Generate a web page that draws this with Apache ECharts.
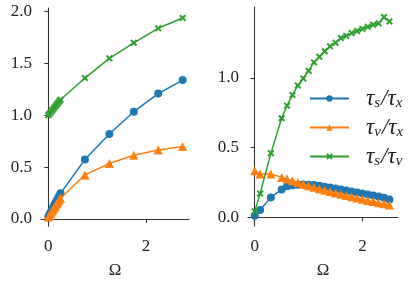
<!DOCTYPE html>
<html><head><meta charset="utf-8">
<script src="https://cdn.jsdelivr.net/npm/echarts@6/dist/echarts.min.js"></script>
<style>html,body{margin:0;padding:0;background:#fff}#c{width:415px;height:284px}</style>
</head><body><div id="c"></div>
<script>
// Left panel data
const leftX = [0, 0.025, 0.05, 0.075, 0.1, 0.125, 0.15, 0.175, 0.2, 0.225, 0.25, 0.75, 1.25, 1.75, 2.25, 2.75];
const leftSX = [0.02, 0.045, 0.066, 0.09, 0.113, 0.136, 0.158, 0.18, 0.202, 0.225, 0.247, 0.574, 0.82, 1.035, 1.21, 1.34];
const leftVX = [0.02, 0.038, 0.056, 0.074, 0.092, 0.11, 0.128, 0.146, 0.164, 0.182, 0.2, 0.425, 0.535, 0.615, 0.665, 0.70];
const leftSV = [1.0, 1.015, 1.03, 1.045, 1.06, 1.075, 1.09, 1.105, 1.12, 1.135, 1.15, 1.36, 1.55, 1.70, 1.84, 1.94];
// Right panel data
const rightX = [0, 0.1, 0.3, 0.5, 0.6, 0.7, 0.8, 0.9, 1.0, 1.1, 1.2, 1.3, 1.4, 1.5, 1.6, 1.7, 1.8, 1.9, 2.0, 2.1, 2.2, 2.3, 2.4, 2.5];
const rightSX = [0.012, 0.052, 0.143, 0.200, 0.222, 0.230, 0.234, 0.235, 0.234, 0.231, 0.226, 0.220, 0.213, 0.206, 0.199, 0.192, 0.185, 0.178, 0.171, 0.164, 0.157, 0.150, 0.140, 0.128];
const rightVX = [0.333, 0.31, 0.31, 0.286, 0.274, 0.262, 0.250, 0.238, 0.227, 0.216, 0.205, 0.195, 0.185, 0.175, 0.165, 0.156, 0.147, 0.138, 0.129, 0.121, 0.113, 0.105, 0.097, 0.089];
const rightSV = [0.043, 0.17, 0.46, 0.71, 0.80, 0.876, 0.945, 0.995, 1.05, 1.11, 1.15, 1.19, 1.225, 1.25, 1.285, 1.30, 1.32, 1.335, 1.35, 1.365, 1.38, 1.39, 1.435, 1.404];
// Ticks
const leftYTicks = [0, 0.5, 1.0, 1.5, 2.0];
const rightYTicks = [0, 0.5, 1.0];
const xTicks = [0, 2];
const seriesNames = ['τs/τx', 'τv/τx', 'τs/τv'];

const colors = ['#1f77b4', '#ff7f0e', '#2ca02c'];
const XSYM = 'path://M0,2 L2,0 L5,3 L8,0 L10,2 L7,5 L10,8 L8,10 L5,7 L2,10 L0,8 L3,5 Z';
const symbols = ['circle', 'triangle', XSYM];
const symSizes = [8, 9, 7];
const FONT = 'Liberation Serif';
const spine = {show: true, lineStyle: {color: '#333', width: 1.1}};
const tick = (vals) => ({show: true, inside: false, length: 4, lineStyle: {color: '#333', width: 1.1}, customValues: vals});
const lab = (vals, dec, m) => ({show: true, customValues: vals, margin: m, color: '#222', fontFamily: FONT, fontSize: 17,
  formatter: v => dec ? Number(v).toFixed(1) : String(Math.round(v))});

function xAxis(idx, min, max) {
  return {type: 'value', gridIndex: idx, min, max, axisLine: spine, axisTick: tick(xTicks), axisLabel: lab(xTicks, false, 12),
    splitLine: {show: false}, name: 'Ω', nameLocation: 'middle', nameGap: 36,
    nameTextStyle: {fontFamily: FONT, fontSize: 17, color: '#222'}};
}
function yAxis(idx, min, max, ticks) {
  return {type: 'value', gridIndex: idx, min, max, axisLine: spine, axisTick: tick(ticks), axisLabel: lab(ticks, true, 9),
    splitLine: {show: false}};
}
function mk(name, i, xs, ys, gi) {
  return {name, type: 'line', xAxisIndex: gi, yAxisIndex: gi, data: xs.map((x, k) => [x, ys[k]]),
    symbol: symbols[i], symbolSize: symSizes[i], showSymbol: true,
    itemStyle: {color: colors[i]}, lineStyle: {color: colors[i], width: 1.5}, z: 2 + i, animation: false};
}
const richMap = {
  'τs/τx': '{t|τ}{s|s}{t|/τ}{s|x}',
  'τv/τx': '{t|τ}{s|v}{t|/τ}{s|x}',
  'τs/τv': '{t|τ}{s|s}{t|/τ}{s|v}'
};
const chart = echarts.init(document.getElementById('c'), null, {renderer: 'canvas'});
chart.setOption({
  animation: false,
  color: colors,
  grid: [
    {left: 41, top: 8, width: 148, height: 219},
    {left: 248, top: 7, width: 150, height: 220}
  ],
  xAxis: [xAxis(0, -0.149, 2.88), xAxis(1, -0.125, 2.66)],
  yAxis: [yAxis(0, -0.068, 2.036, leftYTicks), yAxis(1, -0.062, 1.507, rightYTicks)],
  legend: {
    data: seriesNames, orient: 'vertical', left: 304, top: 81, itemWidth: 39, itemHeight: 8, itemGap: 4,
    formatter: n => richMap[n],
    textStyle: {padding: [0, 0, 0, 12], rich: {
      t: {fontFamily: FONT, fontStyle: 'italic', fontSize: 23, color: '#222', lineHeight: 24},
      s: {fontFamily: FONT, fontStyle: 'italic', fontSize: 15, color: '#222', lineHeight: 24, padding: [10, 1, 0, 0]}
    }}
  },
  series: [
    mk(seriesNames[0], 0, leftX, leftSX, 0),
    mk(seriesNames[1], 1, leftX, leftVX, 0),
    mk(seriesNames[2], 2, leftX, leftSV, 0),
    mk(seriesNames[0], 0, rightX, rightSX, 1),
    mk(seriesNames[1], 1, rightX, rightVX, 1),
    mk(seriesNames[2], 2, rightX, rightSV, 1)
  ]
});
</script></body></html>
